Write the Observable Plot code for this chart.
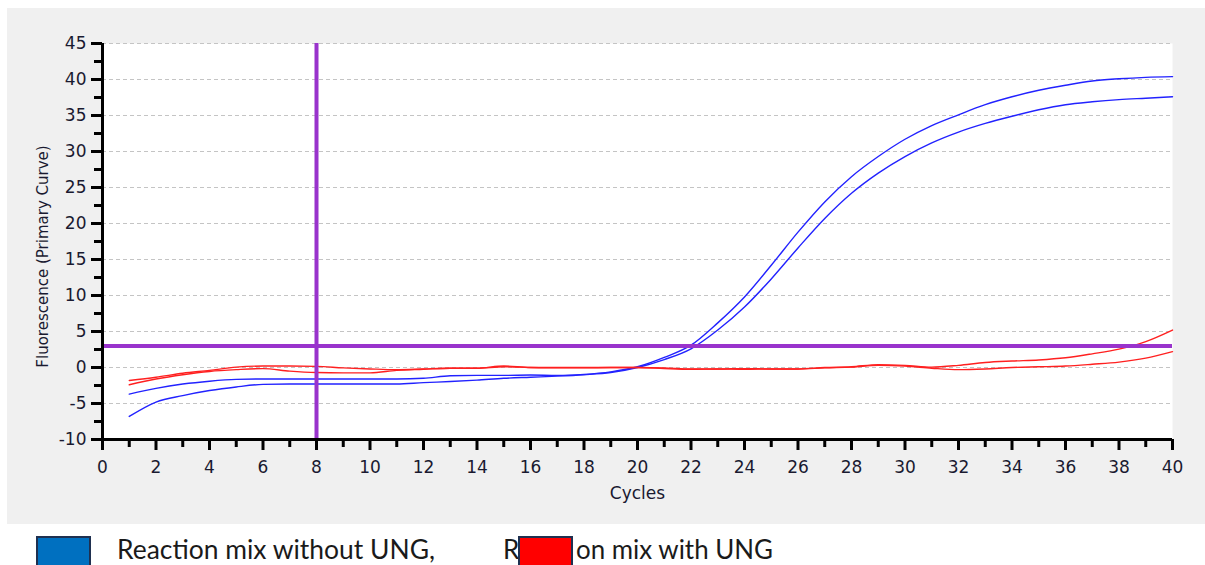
<!DOCTYPE html>
<html>
<head>
<meta charset="utf-8">
<script src="https://cdn.jsdelivr.net/npm/d3@7"></script>
<script src="https://cdn.jsdelivr.net/npm/@observablehq/plot@0.6"></script>
<style>
  html, body { margin: 0; padding: 0; background: #ffffff; overflow: hidden; }
  #wrap { position: relative; width: 1205px; height: 565px; overflow: hidden; }
  #chart { position: absolute; left: 7px; top: 8px; }
  #legend { position: absolute; left: 0; top: 525px; }
</style>
</head>
<body>
<div id="wrap">
  <div id="chart"></div>
  <svg id="legend" width="1205" height="40"></svg>
</div>
<script>
// ---- data ----
const cycles = [1,2,3,4,5,6,7,8,9,10,11,12,13,14,15,16,17,18,19,20,21,22,23,24,25,26,27,28,29,30,31,32,33,34,35,36,37,38,39,40];

// Reaction mix without UNG (blue)
const withoutUNG_1 = [-3.7,-2.9,-2.3,-1.9,-1.65,-1.6,-1.6,-1.6,-1.6,-1.6,-1.6,-1.5,-1.15,-1.1,-1.1,-1.05,-1.1,-0.95,-0.6,0.1,1.4,3.1,6.2,9.8,14.2,18.8,23.0,26.5,29.3,31.7,33.6,35.1,36.5,37.6,38.5,39.2,39.8,40.1,40.3,40.4];
const withoutUNG_2 = [-6.8,-4.8,-3.9,-3.2,-2.7,-2.35,-2.3,-2.3,-2.3,-2.3,-2.3,-2.1,-1.95,-1.75,-1.5,-1.35,-1.2,-1.0,-0.7,0.0,1.1,2.6,5.2,8.4,12.3,16.6,20.7,24.2,27.0,29.3,31.2,32.7,33.9,34.9,35.8,36.5,36.9,37.2,37.4,37.6];

// Reaction mix with UNG (red)
const withUNG_1 = [-1.8,-1.35,-0.8,-0.4,0.05,0.2,0.2,0.15,-0.05,-0.2,-0.3,-0.2,-0.1,-0.1,0.2,0.0,0.0,0.0,0.0,0.0,-0.05,-0.2,-0.2,-0.15,-0.2,-0.2,0.0,0.1,0.4,0.3,0.05,0.3,0.7,0.9,1.05,1.35,1.9,2.55,3.6,5.2];
const withUNG_2 = [-2.4,-1.6,-1.0,-0.55,-0.3,-0.15,-0.5,-0.7,-0.75,-0.75,-0.4,-0.25,-0.1,-0.1,0.1,0.0,-0.05,-0.05,0.0,0.0,-0.15,-0.25,-0.2,-0.25,-0.2,-0.2,-0.05,0.05,0.3,0.2,-0.1,-0.3,-0.2,0.0,0.1,0.2,0.45,0.75,1.3,2.2];

// threshold / cursor
const cursorCycle = [8];
const thresholdValue = [3];

// ticks
const xMajorTicks = [0,2,4,6,8,10,12,14,16,18,20,22,24,26,28,30,32,34,36,38,40];
const xMinorTicks = [1,3,5,7,9,11,13,15,17,19,21,23,25,27,29,31,33,35,37,39];
const yMajorTicks = [-10,-5,0,5,10,15,20,25,30,35,40,45];
const yMinorTicks = [-7.5,-2.5,2.5,7.5,12.5,17.5,22.5,27.5,32.5,37.5,42.5];
const gridTicks = [-5,0,5,10,15,20,25,30,35,40,45];

const groups = ["Reaction mix without UNG", "Reaction mix with UNG"];
const seriesList = [
  {name: "without-1", group: groups[0], values: withoutUNG_1},
  {name: "without-2", group: groups[0], values: withoutUNG_2},
  {name: "with-1", group: groups[1], values: withUNG_1},
  {name: "with-2", group: groups[1], values: withUNG_2}
];
const rows = seriesList.flatMap(s => cycles.map((c, i) => ({cycle: c, value: s.values[i], series: s.name, group: s.group})));

const purple = "#9933cc";
const lineBlue = "#2222ff";
const lineRed = "#ff2020";
const axisColor = "#000000";
const textColor = "#1a1a30";

const chart = Plot.plot({
  width: 1198,
  height: 516,
  marginLeft: 95,
  marginRight: 33,
  marginTop: 35,
  marginBottom: 85,
  style: {background: "#f0f0f0", fontFamily: "'DejaVu Sans', sans-serif", fontSize: "17px", color: textColor, overflow: "visible"},
  x: {domain: [0, 40], axis: null},
  y: {domain: [-10, 45], axis: null},
  color: {domain: groups, range: [lineBlue, lineRed]},
  marks: [
    Plot.frame({fill: "white", stroke: "none"}),
    Plot.gridY(gridTicks, {stroke: "#c4c4c4", strokeOpacity: 1, strokeWidth: 1, strokeDasharray: "4,3"}),
    Plot.line(rows, {x: "cycle", y: "value", z: "series", stroke: "group", strokeWidth: 1.4, curve: "monotone-x"}),
    Plot.ruleX(cursorCycle, {stroke: purple, strokeWidth: 4}),
    Plot.ruleY(thresholdValue, {stroke: purple, strokeWidth: 4}),
    Plot.ruleX([0], {stroke: axisColor, strokeWidth: 3}),
    Plot.ruleY([-10], {stroke: axisColor, strokeWidth: 3}),
    Plot.axisX(xMajorTicks, {anchor: "bottom", tickSize: 11, tickPadding: 10, strokeWidth: 3, stroke: axisColor, fontSize: 17, label: null, tickFormat: d => String(d)}),
    Plot.axisX(xMinorTicks, {anchor: "bottom", tickSize: 8, strokeWidth: 3, stroke: axisColor, label: null, tickFormat: () => ""}),
    Plot.axisY(yMajorTicks, {anchor: "left", tickSize: 11, tickPadding: 5, strokeWidth: 3, stroke: axisColor, fontSize: 17, label: null, tickFormat: d => String(d)}),
    Plot.axisY(yMinorTicks, {anchor: "left", tickSize: 8, strokeWidth: 3, stroke: axisColor, label: null, tickFormat: () => ""}),
    Plot.text(["Cycles"], {frameAnchor: "bottom", dy: 54, lineAnchor: "middle", textAnchor: "middle", fontSize: 17, fill: textColor}),
    Plot.text(["Fluorescence (Primary Curve)"], {frameAnchor: "left", rotate: -90, dx: -59, dy: 15, lineAnchor: "middle", textAnchor: "middle", fontSize: 15, fill: textColor})
  ]
});
document.getElementById("chart").appendChild(chart);

// ---- legend ----
const legend = d3.select("#legend");
const legendFont = "Lato, 'Open Sans', sans-serif";
legend.append("rect").attr("x", 37).attr("y", 12).attr("width", 53).attr("height", 40)
  .attr("fill", "#0070c0").attr("stroke", "#1f3050").attr("stroke-width", 2);
legend.append("text").attr("x", 117).attr("y", 34).attr("font-family", legendFont).attr("font-size", 26)
  .attr("fill", "#1a1a1a").attr("textLength", 318).attr("lengthAdjust", "spacingAndGlyphs")
  .text(groups[0] + ",");
legend.append("text").attr("x", 503).attr("y", 34).attr("font-family", legendFont).attr("font-size", 26)
  .attr("fill", "#1a1a1a").text("R");
legend.append("rect").attr("x", 519).attr("y", 12).attr("width", 53).attr("height", 40)
  .attr("fill", "#ff0000").attr("stroke", "#1f3050").attr("stroke-width", 2);
legend.append("text").attr("x", 576).attr("y", 34).attr("font-family", legendFont).attr("font-size", 26)
  .attr("fill", "#1a1a1a").attr("textLength", 197).attr("lengthAdjust", "spacingAndGlyphs")
  .text("on mix with UNG");
</script>
</body>
</html>
